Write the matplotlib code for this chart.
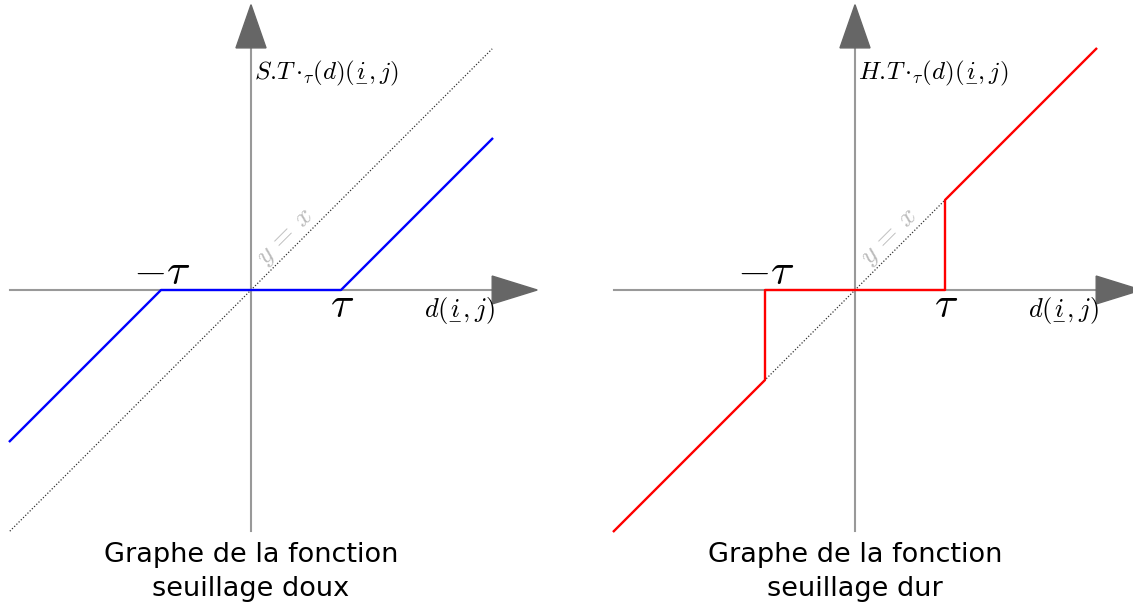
import numpy as np
import matplotlib.pyplot as plt
from matplotlib.patches import Polygon

plt.rcParams['mathtext.fontset'] = 'cm'

# seuil et domaine (unites de tau)
tau = 1.0
xmax = 2.68

# seuillage doux
soft_x = [-xmax, -tau, tau, xmax]
soft_y = [-xmax + tau, 0, 0, xmax - tau]

# seuillage dur
hard_x = [-xmax, -tau, -tau, tau, tau, xmax]
hard_y = [-xmax, -tau, 0, 0, tau, xmax]

ident = [-xmax, xmax]

ui = r'\underset{-}{i}'
panels = [
    (soft_x, soft_y, 'blue', r'$S.\!T\,{\cdot}_{\tau}(d)(' + ui + r',j)$',
     'Graphe de la fonction\nseuillage doux', 251),
    (hard_x, hard_y, 'red', r'$H.\!T\,{\cdot}_{\tau}(d)(' + ui + r',j)$',
     'Graphe de la fonction\nseuillage dur', 855),
]

W, H = 1133, 606
px = 90.0
fig = plt.figure(figsize=(W / 100, H / 100), dpi=100)

for i, (xs, ys, col, lab, title, ox) in enumerate(panels):
    ax = fig.add_axes([i * 0.5, 0, 0.5, 1])
    left = i * W / 2
    ax.set_xlim((left - ox) / px, (left + W / 2 - ox) / px)
    ax.set_ylim((290 - H) / px, 290 / px)
    ax.axis('off')

    # axes
    ax.plot([-xmax, xmax], [0, 0], color='#999999', lw=1.5, zorder=1)
    ax.plot([0, 0], [-xmax, xmax], color='#999999', lw=1.5, zorder=1)
    ax.add_patch(Polygon([[xmax, 0.155], [xmax, -0.155], [3.18, 0]],
                         closed=True, color='#666666', zorder=2, clip_on=False))
    ax.add_patch(Polygon([[-0.167, 2.69], [0.167, 2.69], [0, 3.17]],
                         closed=True, color='#666666', zorder=2, clip_on=False))

    # y = x
    ax.plot(ident, ident, color='#333333', lw=0.9, ls=(0, (1, 1.5)), zorder=2)
    ax.text(0.37, 0.6, r'$y\,=\,x$', rotation=45, color='#bbbbbb', fontsize=20,
            ha='center', va='center')

    ax.plot(xs, ys, color=col, lw=1.7, zorder=3)

    ax.text(-0.99, 0.2, r'$-\tau$', fontsize=31, ha='center', va='center')
    ax.text(1.01, -0.17, r'$\tau$', fontsize=31, ha='center', va='center')
    ax.text(2.32, -0.22, r'$d(' + ui + r',j)$', fontsize=19, ha='center', va='center')
    ax.text(0.03, 2.42, lab, fontsize=18, ha='left', va='center')
    ax.text(0, -3.135, title, fontsize=19.5, ha='center', va='center', linespacing=1.4)

fig.savefig('out.png', dpi=100)
